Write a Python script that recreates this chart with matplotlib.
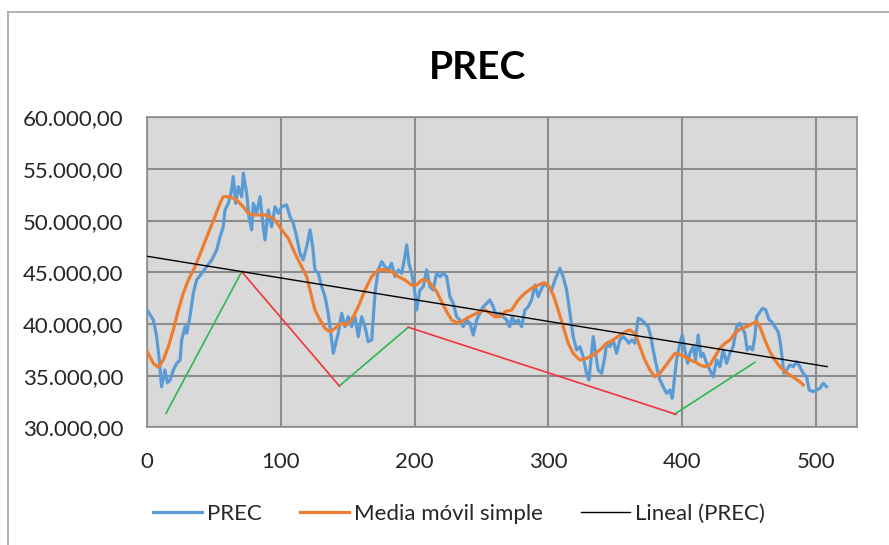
import matplotlib
matplotlib.use("Agg")
import matplotlib.pyplot as plt
from matplotlib.ticker import FuncFormatter
from matplotlib.lines import Line2D

# Daily price series (index, price)
prec_x = [0, 2, 4.5, 7, 8.7, 10.7, 13.2, 15, 17, 19.5, 22, 24.5, 25.7, 28.2, 29.5, 31.9,
          34.4, 36.9, 40.7, 44.4, 48.2, 51.9, 54.4, 56.8, 58.1, 60.6, 62.6, 64.3, 66.1,
          68, 70.6, 71.8, 74.3, 76, 78, 79.3, 81.8, 84.3, 86.7, 88, 90.5, 93, 95.5, 98,
          100.5, 104.2, 106.7, 109.2, 111.7, 114.2, 116.6, 119.2, 121.7, 123.7, 125.4,
          127.9, 130.4, 132.9, 135.3, 137.9, 139.1, 140.9, 142.8, 145.4, 147.8, 150.3,
          152.8, 155.3, 157.8, 160.3, 162.8, 165.2, 167.8, 170.3, 172.7, 175.3, 177.7,
          180.2, 182.7, 185.2, 187.7, 190.2, 192.2, 194, 195.7, 197.7, 199.6, 201.4,
          203.9, 206.4, 208.9, 211.4, 213.8, 216.4, 218.9, 221.3, 223.9, 226.3, 228.8,
          231.3, 233.8, 236.3, 238.8, 241.3, 243.8, 246.3, 248.8, 251.2, 253.8, 256.2,
          258.7, 261.3, 263.7, 266.2, 268.7, 271, 273, 275, 277.4, 280, 282.4, 284.9,
          287.4, 289.9, 292.4, 294.4, 296.9, 299.4, 302.4, 304.9, 306.9, 308.6, 311,
          313.6, 316.1, 318.5, 321.1, 323.5, 326, 328.5, 330.3, 331.8, 333.5, 335.3,
          337.2, 339.8, 342.2, 343.5, 346, 348.4, 351, 353.4, 355.9, 358.5, 360, 362.2,
          364.7, 367.1, 369.7, 372.1, 374.6, 376.6, 378.3, 380.9, 383.4, 385.8, 388.4,
          390.8, 392.6, 394.1, 395.8, 398.3, 400.1, 402, 404.1, 405.8, 408.3, 410, 412,
          414, 415.7, 418.3, 420.7, 423.2, 425.8, 428.2, 430.7, 433.2, 435.7, 438.2,
          440.7, 443.2, 445.6, 446.9, 448.6, 450.6, 452.7, 454.4, 455.7, 457.6, 460.1,
          462.6, 465.1, 466.9, 469.3, 471.8, 473.1, 474.4, 476.1, 478.1, 480.6, 483,
          485.6, 488, 490.5, 493.1, 495, 498, 500.5, 503, 505.5, 508]
prec_y = [41300, 40900, 40390, 38770, 36830, 33930, 35550, 34300, 34580, 35550, 36200,
          36500, 38450, 39740, 39100, 40700, 42970, 44260, 44900, 45550, 46200, 47160,
          48450, 49420, 51030, 51680, 52650, 54260, 51680, 53290, 52320, 54590, 52650,
          50390, 49100, 51680, 50710, 52320, 49420, 48130, 51030, 49420, 51350, 50710,
          51350, 51520, 50390, 49750, 48450, 46840, 46200, 47480, 49100, 47480, 45230,
          44900, 43610, 42640, 41040, 38450, 37160, 38130, 39100, 41040, 39740, 40700,
          39740, 40700, 38770, 40700, 39740, 38290, 38450, 42970, 45230, 46030, 45550,
          45230, 45870, 44580, 45230, 44900, 46200, 47650, 45870, 44900, 43610, 41350,
          43290, 43610, 45230, 43610, 43290, 44900, 44580, 44900, 44580, 42640, 42000,
          40700, 40390, 39740, 40390, 40070, 38930, 40390, 41040, 41670, 42000, 42320,
          41670, 40700, 41040, 40700, 40390, 39740, 40700, 40070, 40390, 39740, 41350,
          41670, 42320, 43770, 42640, 43290, 43940, 43610, 43290, 44260, 44900, 45390,
          44580, 43290, 41040, 38770, 37480, 37800, 36830, 35230, 34580, 36510, 38770,
          37160, 35550, 35230, 36830, 38130, 37800, 38450, 37160, 38450, 38770, 38450,
          38130, 38450, 38130, 40550, 40390, 40070, 39740, 38770, 37480, 35870, 34580,
          33930, 33290, 33610, 32810, 34580, 36510, 38130, 38930, 37480, 36200, 37160,
          37800, 36510, 38930, 36830, 37160, 36200, 35550, 34900, 36510, 35870, 37480,
          36200, 37160, 37800, 39740, 40070, 39420, 39100, 37480, 37800, 37480, 38770,
          40700, 41040, 41520, 41350, 40390, 40230, 39740, 39250, 38450, 37160, 35230,
          35550, 36030, 35870, 36350, 35870, 35230, 34900, 33610, 33450, 33610, 33770,
          34260, 33930]

# Simple moving average series
sma_x = [0, 4.5, 8.2, 12, 15.7, 19.4, 23.2, 26.9, 30.7, 35.7, 40.7, 45.6, 50.6, 54.4,
         56.8, 60.6, 64.3, 68, 71.8, 75.5, 79.3, 84.3, 88, 93, 95.5, 100.5, 105.4, 110.4,
         115.4, 119.2, 122.9, 125.4, 129.1, 132.9, 136.6, 140.4, 145.4, 149.1, 152.8,
         157.8, 162.8, 167.8, 172.7, 177.7, 182.7, 187.7, 192.7, 197.7, 201.4, 205.2,
         208.9, 212.6, 216.4, 220.1, 223.9, 227.6, 231.3, 235.1, 238.8, 243.8, 248.8,
         252.5, 256.2, 260, 263.7, 267.5, 272.5, 277.4, 282.4, 287.4, 292.4, 296.9,
         299.8, 303.6, 307.3, 311, 314.8, 318.5, 323.5, 328.5, 333.5, 338.5, 343.5,
         348.4, 353.4, 358.5, 360.9, 364.7, 368.4, 372.1, 375.9, 379.6, 383.3, 387.1,
         390.8, 394.6, 398.3, 402, 405.8, 409.5, 413.3, 417, 420.7, 424.5, 428.2, 432,
         435.7, 439.5, 443.2, 448.2, 451.9, 455.7, 458.1, 461.9, 465.6, 469.3, 473.1,
         476.8, 480.6, 484.3, 488, 490.5]
sma_y = [37300, 36200, 35810, 36510, 37800, 39420, 41350, 42970, 44260, 45550, 47160,
         48780, 50390, 51680, 52320, 52320, 52170, 51840, 51350, 50710, 50550, 50550,
         50550, 50300, 50070, 49100, 48300, 46840, 45550, 44580, 42640, 41350, 40390,
         39580, 39250, 39580, 40070, 39900, 40390, 41670, 43290, 44580, 45230, 45260,
         45060, 44580, 44260, 43770, 43770, 44260, 44260, 43770, 43130, 42160, 41190,
         40390, 40130, 40230, 40550, 40870, 41190, 41350, 41040, 40700, 40700, 41190,
         41350, 42320, 42970, 43450, 43770, 44000, 43770, 42810, 41350, 39740, 38130,
         37160, 36510, 36680, 37000, 37480, 38130, 38450, 38930, 39300, 39420, 39100,
         37800, 36510, 35550, 34900, 35230, 35870, 36510, 37160, 37000, 36830, 36510,
         36350, 36030, 35870, 36030, 36830, 37650, 38130, 38450, 39100, 39500, 39740,
         40000, 40230, 39740, 38450, 37320, 36510, 35870, 35380, 35060, 34740, 34410,
         34100]

# Linear trend of the price (value at index 0 and slope per step)
trend_intercept = 46550
trend_slope = -21.0
trend_end_x = 508.5

# Hand-drawn swing lines: up-legs in green, down-legs in red
swing_up = [([14, 70.6], [31350, 45060]),
            ([143.6, 195.2], [34000, 39680]),
            ([394, 454.4], [31250, 36290])]
swing_down = [([70.6, 143.6], [45060, 34000]),
              ([195.2, 395.5], [39680, 31250])]

x_ticks = [0, 100, 200, 300, 400, 500]
y_ticks = [30000, 35000, 40000, 45000, 50000, 55000, 60000]

FONT = ["Lato", "DejaVu Sans"]
plt.rcParams["font.family"] = FONT

W, H = 889, 545
fig = plt.figure(figsize=(W / 100, H / 100), dpi=100)
fig.patch.set_facecolor("white")

# chart-area border (left and top edges)
fig.add_artist(Line2D([8 / W, 8 / W], [0, 1 - 12 / H], transform=fig.transFigure,
                      color="#A6A6A6", lw=1.2))
fig.add_artist(Line2D([8 / W, 1], [1 - 12 / H, 1 - 12 / H], transform=fig.transFigure,
                      color="#A6A6A6", lw=1.2))

left, right, top, bottom = 147.3, 857.3, 117.3, 427.3
ax = fig.add_axes([left / W, 1 - bottom / H, (right - left) / W, (bottom - top) / H])
ax.set_facecolor("#D9D9D9")

ax.set_xlim(0, 531)
ax.set_ylim(30000, 60000)
ax.set_xticks(x_ticks)
ax.set_yticks(y_ticks)
ax.grid(True, color="#8C8C8C", lw=1.5)
ax.set_axisbelow(True)
for s in ax.spines.values():
    s.set_color("#8C8C8C")
    s.set_linewidth(1.2)

def es_fmt(v, pos):
    s = f"{v:,.2f}"
    return s.replace(",", "X").replace(".", ",").replace("X", ".")

ax.yaxis.set_major_formatter(FuncFormatter(es_fmt))
ax.tick_params(axis="both", length=0, labelsize=16, labelcolor="#262626")
ax.tick_params(axis="x", pad=18)
ax.tick_params(axis="y", pad=17)

for xs, ys in swing_up:
    ax.plot(xs, ys, color="#2EB84E", lw=1.2, zorder=2)
for xs, ys in swing_down:
    ax.plot(xs, ys, color="#F0353B", lw=1.2, zorder=2)

ax.plot(prec_x, prec_y, color="#5B9BD5", lw=2.3, label="PREC", zorder=3,
        solid_joinstyle="round")
ax.plot(sma_x, sma_y, color="#ED7D31", lw=2.3, label="Media móvil simple", zorder=4,
        solid_joinstyle="round")
ax.plot([0, trend_end_x], [trend_intercept, trend_intercept + trend_slope * trend_end_x],
        color="#000000", lw=1.0, label="Lineal (PREC)", zorder=5)

fig.text(478 / W, 1 - 67 / H, "PREC", ha="center", va="center", fontsize=28,
         fontweight="bold", color="#000000")

fig.legend(loc="center", bbox_to_anchor=(459 / W, 1 - 514 / H), ncol=3, frameon=False,
           fontsize=16, handlelength=2.2, handletextpad=0.25, columnspacing=1.7,
           labelcolor="#262626")

fig.savefig("out.png", dpi=100)
